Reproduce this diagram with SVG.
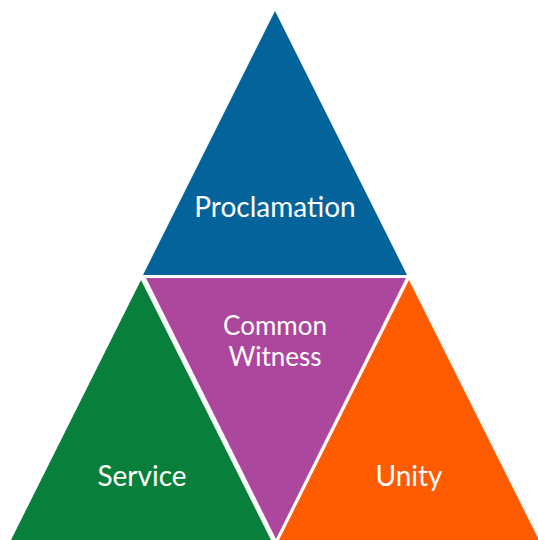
<svg xmlns="http://www.w3.org/2000/svg" width="538" height="540" viewBox="0 0 538 540">
<style>
  text { font-family: Lato, "Open Sans", sans-serif; font-size: 28px; fill: #ffffff; text-anchor: middle; }
  .cw { font-size: 26px; }
</style>
<rect width="538" height="540" fill="#ffffff"/>
<g id="proclamation">
  <polygon points="275,11 143,275 407,275" fill="#04639B"/>
  <text x="275" y="217">Proclamation</text>
</g>
<g id="common-witness">
  <polygon points="146,278 406,278 276,539" fill="#AC479D"/>
  <text class="cw" x="275" y="335">Common</text>
  <text class="cw" x="275" y="366">Witness</text>
</g>
<g id="service">
  <polygon points="141,280 11,540 271,540" fill="#08803B"/>
  <text x="142" y="486">Service</text>
</g>
<g id="unity">
  <polygon points="409,280 279,540 539,540" fill="#FF5B00"/>
  <text x="409" y="486">Unity</text>
</g>
<g id="connectors"></g>
</svg>
